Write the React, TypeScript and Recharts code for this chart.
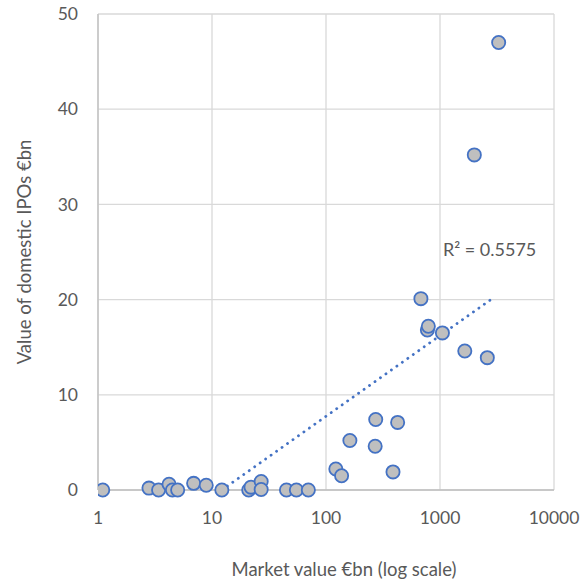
import {
  ComposedChart,
  Scatter,
  XAxis,
  YAxis,
  CartesianGrid,
  ReferenceLine,
  ReferenceDot,
} from 'recharts';

// market value €bn (x) and value of domestic IPOs €bn (y)
const marketValue = [
  1.1, 2.8, 3.4, 4.2, 4.5, 5.0, 6.9, 8.9, 12.2, 21, 22, 27, 27, 45, 55, 70,
  122, 137, 162, 270, 273, 387, 425, 680, 775, 790, 1050, 1650, 2000, 2600, 3270,
];
const ipoValue = [
  0, 0.2, 0, 0.6, 0, 0, 0.7, 0.5, 0, 0, 0.3, 0.9, 0.05, 0, 0, 0,
  2.2, 1.5, 5.2, 4.6, 7.4, 1.9, 7.1, 20.1, 16.8, 17.2, 16.5, 14.6, 35.2, 13.9, 47,
];

const xTicks = [1, 10, 100, 1000, 10000];
const yTicks = [0, 10, 20, 30, 40, 50];

// logarithmic trendline end points (straight on a log axis)
const trendX = [12.2, 2950];
const trendY = [0, 20.2];
const rSquaredLabel = 'R² = 0.5575';
const rSquaredAt = { x: 1060, y: 25.2 };

const points = marketValue.map((x, i) => ({ x, y: ipoValue[i] }));
const trendSegment = trendX.map((x, i) => ({ x, y: trendY[i] }));

const font = 'Lato, "Open Sans", sans-serif';
const textColor = '#595959';

export default function App() {
  return (
    <div style={{ position: 'absolute', left: 0, top: 0, background: '#fff' }}>
      <ComposedChart
        width={583}
        height={581}
        margin={{ top: 14, right: 29, left: 0, bottom: 0 }}
        style={{ fontFamily: font }}
      >
        <CartesianGrid stroke="#d9d9d9" strokeWidth={1.3} />
        <XAxis
          type="number"
          dataKey="x"
          scale="log"
          domain={[1, 10000]}
          ticks={xTicks}
          allowDataOverflow
          height={91}
          tickLine={false}
          tickMargin={16}
          axisLine={{ stroke: '#bfbfbf', strokeWidth: 1.3 }}
          tick={{ fill: textColor, fontSize: 17.5 }}
          label={{
            value: 'Market value €bn (log scale)',
            position: 'insideBottom',
            offset: 5,
            dx: 18,
            style: { fill: textColor, fontSize: 18.5 },
          }}
        />
        <YAxis
          type="number"
          dataKey="y"
          domain={[0, 50]}
          ticks={yTicks}
          width={98}
          tickLine={false}
          tickMargin={14}
          axisLine={{ stroke: '#bfbfbf', strokeWidth: 1.3 }}
          tick={{ fill: textColor, fontSize: 17.5 }}
          label={{
            value: 'Value of domestic IPOs €bn',
            angle: -90,
            position: 'insideLeft',
            offset: 24,
            style: { fill: textColor, fontSize: 18.5, textAnchor: 'middle' },
          }}
        />
        <Scatter
          data={points}
          fill="#bfbfbf"
          stroke="#4472c4"
          strokeWidth={1.8}
          isAnimationActive={false}
          shape={(p: any) => (
            <circle cx={p.cx} cy={p.cy} r={6.6} fill="#bfbfbf" stroke="#4472c4" strokeWidth={1.8} />
          )}
        />
        <ReferenceLine
          segment={trendSegment}
          stroke="#4472c4"
          strokeWidth={2.8}
          strokeDasharray="0.1 6.6"
          strokeLinecap="round"
          ifOverflow="visible"
        />
        <ReferenceDot
          x={rSquaredAt.x}
          y={rSquaredAt.y}
          r={0}
          fill="none"
          stroke="none"
          label={{
            value: rSquaredLabel,
            position: 'right',
            offset: 0,
            style: { fill: textColor, fontSize: 18 },
          }}
        />
      </ComposedChart>
    </div>
  );
}
